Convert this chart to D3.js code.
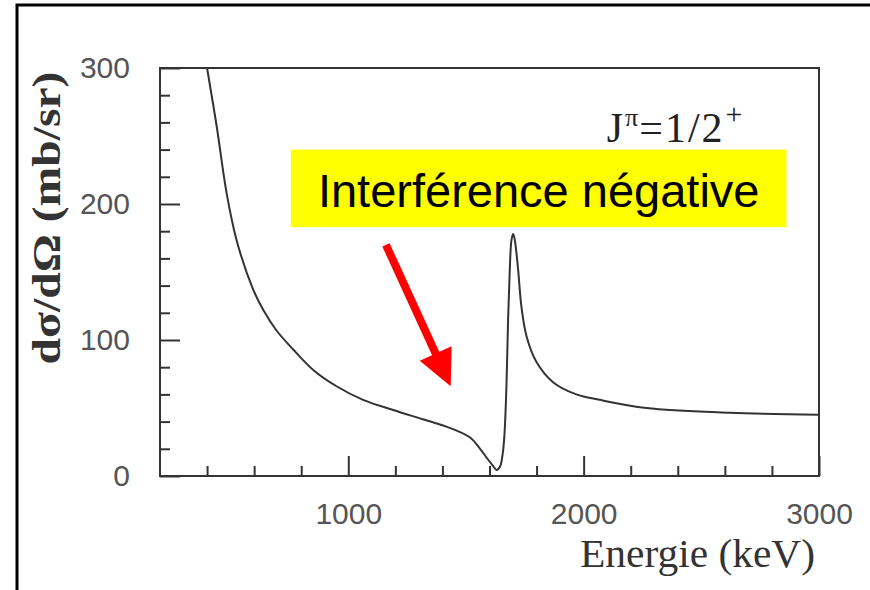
<!DOCTYPE html>
<html>
<head>
<meta charset="utf-8">
<script src="https://cdn.jsdelivr.net/npm/d3@7"></script>
<style>
  html, body { margin: 0; padding: 0; background: #fff; }
  svg { display: block; }
</style>
</head>
<body>
<svg id="chart" width="870" height="590"></svg>
<script>
// Differential cross section vs. energy, J^pi = 1/2+ resonance
const energy = [400, 441, 483, 526, 596, 639, 695, 766, 851, 950, 1063, 1191, 1304, 1417, 1516, 1560, 1592, 1615,
                1630, 1645, 1655, 1663, 1672, 1679, 1686, 1693, 1700, 1706, 1712, 1722, 1736, 1757,
                1799, 1870, 1969, 2068, 2267, 2620, 3000];
const sigma  = [300, 257, 208, 173, 137, 122, 107, 93, 78, 66, 56, 48.5, 42.4, 36.3, 28.5, 20, 12.5, 7.5,
                4.5, 7, 15, 29, 66, 115, 151, 173, 178, 175, 168, 151, 124, 103,
                84, 69, 60, 56, 50, 46.5, 45];

const xDomain = [200, 3000];
const yDomain = [0, 300];
const xMajor = [1000, 2000, 3000];
const xMinor = [400, 600, 800, 1200, 1400, 1600, 1800, 2200, 2400, 2600, 2800];
const yMajor = [0, 100, 200, 300];
const yMinor = [20, 40, 60, 80, 120, 140, 160, 180, 220, 240, 260, 280];

// annotation anchors, in data units
const arrowFrom = [1160, 170];
const arrowTo = [1435, 66];
const noteBox = { e0: 756, e1: 2862, v0: 240, v1: 183 };
const spinAt = [2098, 245.5];

const svg = d3.select("#chart");
const margin = { left: 160, right: 51, top: 68, bottom: 114 };
const W = 870, H = 590;

const x = d3.scaleLinear().domain(xDomain).range([margin.left, W - margin.right]);
const y = d3.scaleLinear().domain(yDomain).range([H - margin.bottom, margin.top]);

const ink = "#333";

// outer frame (left and top edges)
svg.append("path")
  .attr("d", "M17,590 L17,5 L870,5")
  .attr("fill", "none").attr("stroke", "#000").attr("stroke-width", 3);

// plot box
svg.append("rect")
  .attr("x", x(xDomain[0])).attr("y", y(yDomain[1]))
  .attr("width", x(xDomain[1]) - x(xDomain[0]))
  .attr("height", y(yDomain[0]) - y(yDomain[1]))
  .attr("fill", "none").attr("stroke", ink).attr("stroke-width", 2);

// x axis: inward ticks, labels below
const xAxisMajor = d3.axisBottom(x).tickValues(xMajor).tickSize(-20).tickPadding(16)
  .tickFormat(d3.format("d"));
const xAxisMinor = d3.axisBottom(x).tickValues(xMinor).tickSize(-10).tickFormat("");
svg.append("g").attr("transform", `translate(0,${y(0)})`).call(xAxisMinor);
const gx = svg.append("g").attr("transform", `translate(0,${y(0)})`).call(xAxisMajor);

// y axis: inward ticks, labels left
const yAxisMajor = d3.axisLeft(y).tickValues(yMajor).tickSize(-20).tickPadding(30)
  .tickFormat(d3.format("d"));
const yAxisMinor = d3.axisLeft(y).tickValues(yMinor).tickSize(-10).tickFormat("");
svg.append("g").attr("transform", `translate(${x(xDomain[0])},0)`).call(yAxisMinor);
svg.append("g").attr("transform", `translate(${x(xDomain[0])},0)`).call(yAxisMajor);

svg.selectAll(".domain").remove();
svg.selectAll(".tick line").attr("stroke", ink).attr("stroke-width", 2);
svg.selectAll(".tick text")
  .attr("fill", "#555")
  .style("font-family", "'Liberation Sans', Arial, sans-serif")
  .style("font-size", "30px");
gx.selectAll(".tick text").attr("dy", "1.05em");

// curve
const line = d3.line()
  .x((d, i) => x(energy[i]))
  .y(d => y(d))
  .curve(d3.curveCatmullRom.alpha(0.5));
svg.append("path")
  .datum(sigma)
  .attr("d", line)
  .attr("fill", "none")
  .attr("stroke", ink)
  .attr("stroke-width", 2);

// axis titles
svg.append("text")
  .attr("transform", `translate(60,218) rotate(-90)`)
  .attr("text-anchor", "middle")
  .attr("textLength", 293).attr("lengthAdjust", "spacingAndGlyphs")
  .style("font-family", "'Liberation Serif', 'Times New Roman', serif")
  .style("font-weight", "bold")
  .style("font-size", "40px")
  .attr("fill", "#333")
  .text("dσ/dΩ (mb/sr)");

svg.append("text")
  .attr("x", 580).attr("y", 567)
  .attr("textLength", 235).attr("lengthAdjust", "spacingAndGlyphs")
  .style("font-family", "'Liberation Serif', 'Times New Roman', serif")
  .style("font-size", "41px")
  .attr("fill", "#333")
  .text("Energie (keV)");

// spin-parity label
const spin = svg.append("text")
  .attr("x", x(spinAt[0])).attr("y", y(spinAt[1]))
  .style("font-family", "'Liberation Serif', 'Times New Roman', serif")
  .style("font-size", "42px")
  .attr("fill", "#222");
spin.append("tspan").text("J");
spin.append("tspan").attr("dx", 2).attr("dy", -16).style("font-size", "26px").text("π");
spin.append("tspan").attr("dx", 1).attr("dy", 16).attr("letter-spacing", 2).text("=1/2");
spin.append("tspan").attr("dx", 1).attr("dy", -18).style("font-size", "30px").text("+");

// highlighted note
svg.append("rect")
  .attr("x", x(noteBox.e0)).attr("y", y(noteBox.v0))
  .attr("width", x(noteBox.e1) - x(noteBox.e0))
  .attr("height", y(noteBox.v1) - y(noteBox.v0))
  .attr("fill", "#ffff00");
svg.append("text")
  .attr("x", (x(noteBox.e0) + x(noteBox.e1)) / 2)
  .attr("y", y(noteBox.v1) - 20)
  .attr("text-anchor", "middle")
  .style("font-family", "'Liberation Sans', Arial, sans-serif")
  .style("font-size", "47px")
  .attr("fill", "#000")
  .text("Interférence négative");

// red arrow pointing at the dip
const ax0 = x(arrowFrom[0]), ay0 = y(arrowFrom[1]);
const ax1 = x(arrowTo[0]), ay1 = y(arrowTo[1]);
const len = Math.hypot(ax1 - ax0, ay1 - ay0);
const ux = (ax1 - ax0) / len, uy = (ay1 - ay0) / len;
const headLen = 36, headHalf = 17.5;
const bx = ax1 - ux * headLen, by = ay1 - uy * headLen;
svg.append("line")
  .attr("x1", ax0).attr("y1", ay0)
  .attr("x2", bx + ux * 2).attr("y2", by + uy * 2)
  .attr("stroke", "#ff0000").attr("stroke-width", 8);
svg.append("path")
  .attr("d", `M${ax1},${ay1} L${bx - uy * headHalf},${by + ux * headHalf} L${bx + uy * headHalf},${by - ux * headHalf} Z`)
  .attr("fill", "#ff0000");
</script>
</body>
</html>
